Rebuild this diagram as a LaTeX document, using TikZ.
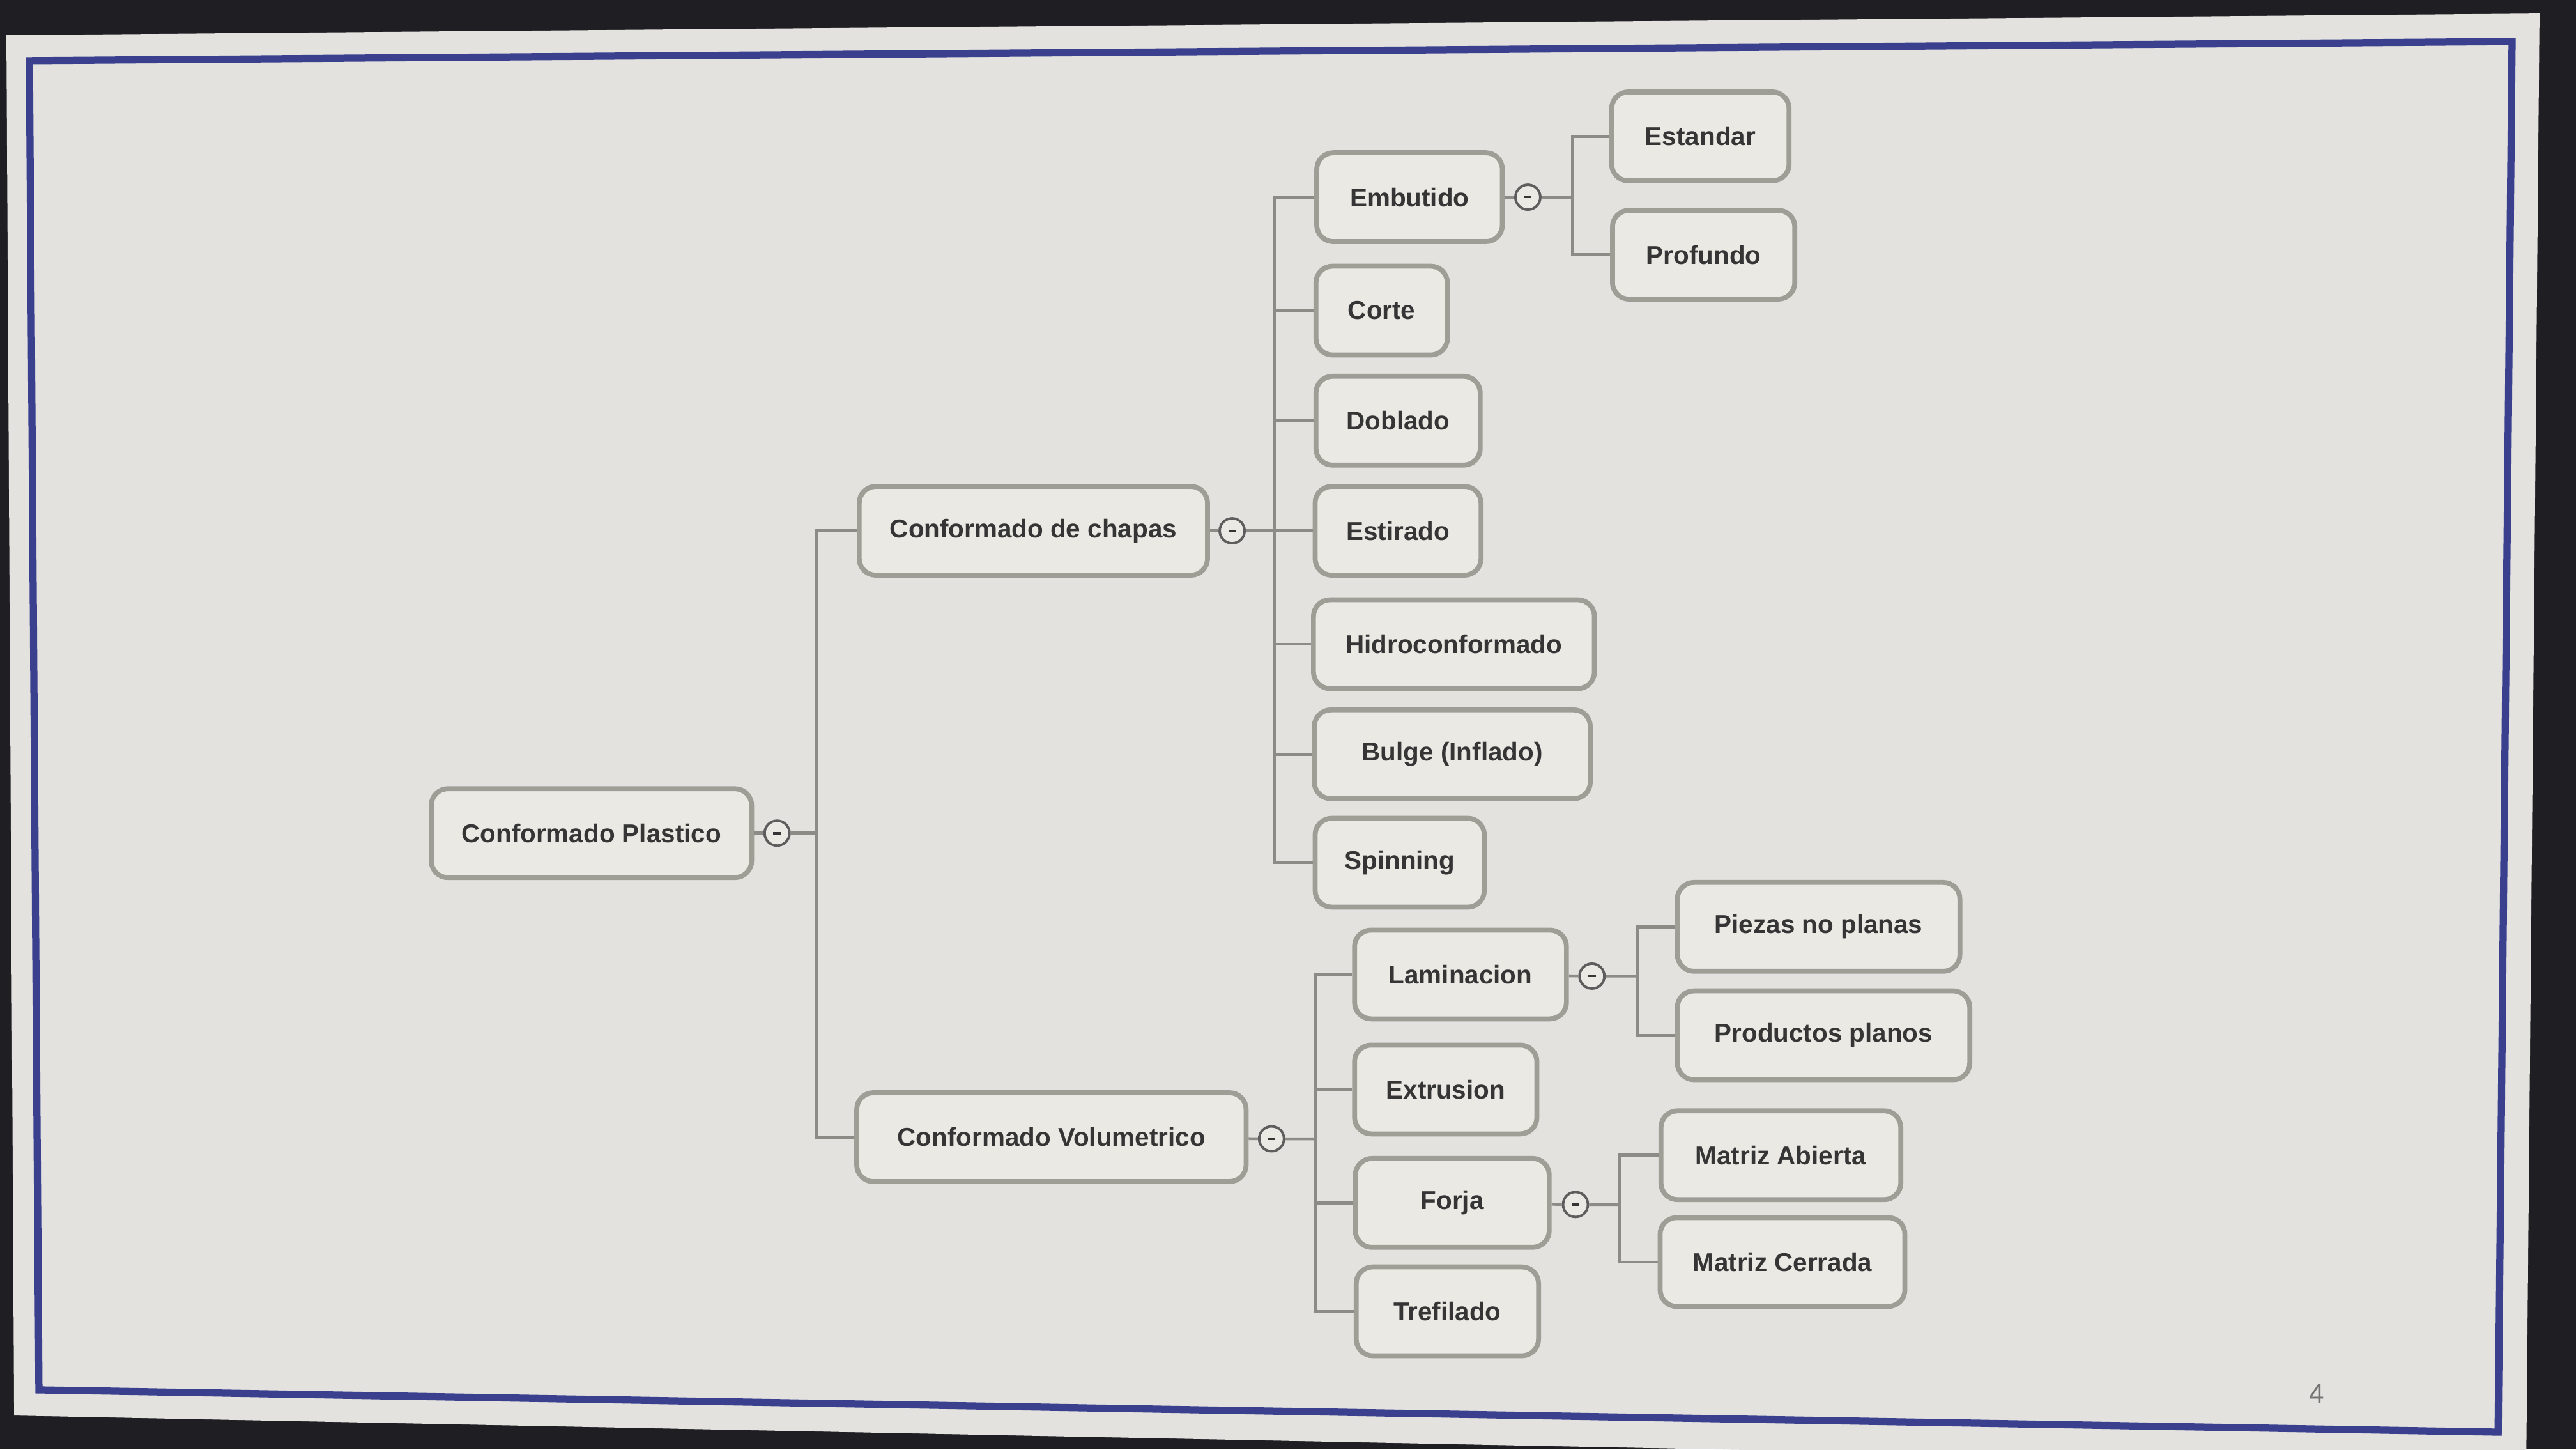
\documentclass[tikz,border=0pt]{standalone}
\usepackage{fontspec}
\setmainfont{Liberation Sans}
\definecolor{screenbg}{HTML}{E3E2DE}
\definecolor{outside}{HTML}{1E1E23}
\definecolor{frameblue}{HTML}{3A3F8E}
\definecolor{boxline}{HTML}{9E9D96}
\definecolor{boxfill}{HTML}{EAE9E4}
\definecolor{linkgray}{HTML}{8C8B86}
\definecolor{textgray}{HTML}{353535}
\tikzset{
	box/.style={draw=boxline, line width=2.2pt, fill=boxfill, rounded corners=2.6mm,
		minimum height=13.9mm, inner sep=1mm, text=textgray,
		font=\fontsize{11.5}{13}\selectfont\bfseries},
	boxw/.style={minimum width=#1*0.25714mm},
	knob/.style={circle, draw=textgray!80, line width=1.1pt, fill=boxfill, minimum size=3.9mm, inner sep=0pt,
		path picture={\draw[line width=1pt, textgray] (path picture bounding box.center) +(-0.6mm,0) -- +(0.6mm,0);}},
	link/.style={draw=linkgray, line width=1.3pt}
}
\begin{document}
\begin{tikzpicture}[x=0.25714mm, y=-0.25714mm]
	\useasboundingbox (0,0) rectangle (1568,882);
	% screen and frame
	\fill[outside] (0,0) rectangle (1568,882);
	\fill[screenbg] (3.9,21.4) -- (1545.8,8.2) -- (1537.7,891.8) -- (8.6,861.4) -- cycle;
	\draw[frameblue, line width=3.2pt] (17.9,36.9) -- (1529.1,25.3) -- (1520.6,871.5) -- (23.7,845.8) -- cycle;
	\node[text=gray!90!black, font=\fontsize{12}{14}\selectfont] (page) at (1410,848) {4};

	% level 0 and 1
	\node[box, boxw=195] (kp) at (360,507) {Conformado Plastico};
	\node[box, boxw=212] (cp) at (629,323) {Conformado de chapas};
	\node[box, boxw=237] (cv) at (640,692) {Conformado Volumetrico};

	% chapas
	\node[box, boxw=113] (emb) at (858,120) {Embutido};
	\node[box, boxw=80] (cor) at (841,189) {Corte};
	\node[box, boxw=100] (dob) at (851,256) {Doblado};
	\node[box, boxw=101] (esti) at (851,323) {Estirado};
	\node[box, boxw=171] (hid) at (885,392) {Hidroconformado};
	\node[box, boxw=168] (bul) at (884,459) {Bulge (Inflado)};
	\node[box, boxw=103] (spi) at (852,525) {Spinning};
	\node[box, boxw=108] (est) at (1035,83) {Estandar};
	\node[box, boxw=111] (pro) at (1037,155) {Profundo};

	% volumetrico
	\node[box, boxw=129] (lam) at (889,593) {Laminacion};
	\node[box, boxw=111] (ext) at (880,663) {Extrusion};
	\node[box, boxw=118] (forj) at (884,732) {Forja};
	\node[box, boxw=111] (tre) at (881,798) {Trefilado};
	\node[box, boxw=172] (pnp) at (1107,564) {Piezas no planas};
	\node[box, boxw=178] (ppl) at (1110,630) {Productos planos};
	\node[box, boxw=146] (mab) at (1084,703) {Matriz Abierta};
	\node[box, boxw=149] (mce) at (1085,768) {Matriz Cerrada};

	% knobs and trunks
	\node[knob] (kpk) at (473,507) {};
	\node[knob] (cpk) at (750,323) {};
	\node[knob] (embk) at (930,120) {};
	\node[knob] (cvk) at (774,693) {};
	\node[knob] (lamk) at (969,594) {};
	\node[knob] (forjk) at (959,733) {};
	\coordinate (tkp) at (497,507);
	\coordinate (tcp) at (776,323);
	\coordinate (temb) at (957,120);
	\coordinate (tcv) at (801,693);
	\coordinate (tlam) at (997,594);
	\coordinate (tforj) at (986,733);

	\draw[link] (kp) -- (kpk) -- (tkp);
	\foreach \c in {cp,cv} \draw[link] (tkp) |- (\c.west);
	\draw[link] (cp) -- (cpk) -- (tcp);
	\foreach \c in {emb,cor,dob,esti,hid,bul,spi} \draw[link] (tcp) |- (\c.west);
	\draw[link] (emb) -- (embk) -- (temb);
	\foreach \c in {est,pro} \draw[link] (temb) |- (\c.west);
	\draw[link] (cv) -- (cvk) -- (tcv);
	\foreach \c in {lam,ext,forj,tre} \draw[link] (tcv) |- (\c.west);
	\draw[link] (lam) -- (lamk) -- (tlam);
	\foreach \c in {pnp,ppl} \draw[link] (tlam) |- (\c.west);
	\draw[link] (forj) -- (forjk) -- (tforj);
	\foreach \c in {mab,mce} \draw[link] (tforj) |- (\c.west);
\end{tikzpicture}
\end{document}
